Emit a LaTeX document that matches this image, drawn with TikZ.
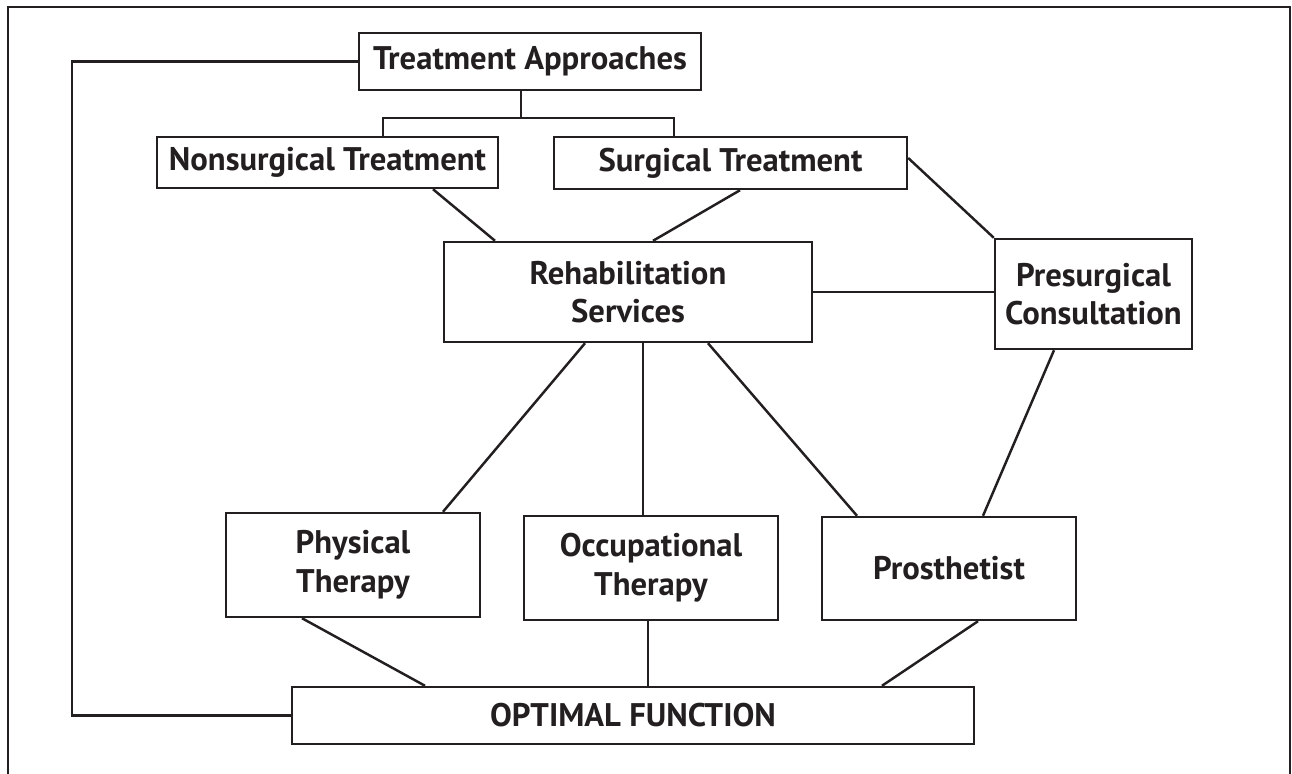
\documentclass[tikz,border=0pt]{standalone}
\usepackage{fontspec}
\setmainfont{PT Sans}
\usetikzlibrary{calc}
\definecolor{encre}{HTML}{231F20}
\tikzset{boite/.style={draw=encre, text=encre, line width=1.4pt, inner sep=0pt, align=center,
  font=\bfseries\fontsize{18.6}{22}\selectfont}}
\begin{document}
\begin{tikzpicture}[x=0.02cm, y=-0.02cm, line width=1.4pt, draw=encre]
\useasboundingbox (0,0) rectangle (1292,774);
\draw (8,774) -- (8,7) -- (1290,7) -- (1290,774); % Cadre
%
\node[boite, minimum width=6.84cm, minimum height=1.14cm] (approches) at (530,61.5) {Treatment Approaches};
\node[boite, minimum width=6.82cm, minimum height=1.02cm] (nonchir) at (327.5,162.5) {Nonsurgical Treatment};
\node[boite, minimum width=7.06cm, minimum height=1.04cm] (chir) at (730.5,163) {Surgical Treatment};
\node[boite, minimum width=7.36cm, minimum height=2.00cm] (readapt) at (628,292) {Rehabilitation\\Services};
\node[boite, minimum width=3.94cm, minimum height=2.20cm] (consult) at (1093.5,294) {Presurgical\\Consultation};
\node[boite, minimum width=5.08cm, minimum height=2.08cm] (physio) at (353,565) {Physical\\Therapy};
\node[boite, minimum width=5.08cm, minimum height=2.08cm] (ergo) at (651,568) {Occupational\\Therapy};
\node[boite, minimum width=5.08cm, minimum height=2.06cm] (prothese) at (949,568.5) {Prosthetist};
\node[boite, minimum width=13.64cm, minimum height=1.14cm] (optimal) at (633,715.5) {OPTIMAL FUNCTION};
%
\draw ($(approches.south)+(-9,0)$) -- ++(0,27) coordinate (fourche);
\draw ($(nonchir.north)+(55.5,0)$) |- (fourche) -| ($(chir.north)+(-56.5,0)$); % Accolade
%
\draw ($(nonchir.south)+(105.5,0)$) -- ($(readapt.north)+(-133,0)$);
\draw ($(chir.south)+(9.5,0)$) -- ($(readapt.north)+(25,0)$);
\draw ($(chir.east)+(0,-5)$) -- (consult.north west);
\draw (readapt.east) -- (readapt.east -| consult.west);
\draw ($(consult.south)+(-39.5,0)$) -- ($(prothese.north)+(34,0)$);
%
\draw ($(readapt.south)+(-43,0)$) -- ($(physio.north)+(90,0)$);
\draw ($(ergo.north)+(-8,0)$) coordinate (e) (e |- readapt.south) -- (e);
\draw ($(readapt.south)+(80,0)$) -- ($(prothese.north)+(-92,0)$);
%
\draw ($(physio.south)+(-51,0)$) -- ($(optimal.north)+(-208,0)$);
\draw ($(ergo.south)+(-3,0)$) coordinate (f) (f) -- (f |- optimal.north);
\draw ($(prothese.south)+(29,0)$) -- ($(optimal.north)+(249,0)$);
%
\draw (approches.west) -- ++(-286,0) |- (optimal.west); % Retour
\end{tikzpicture}
\end{document}
